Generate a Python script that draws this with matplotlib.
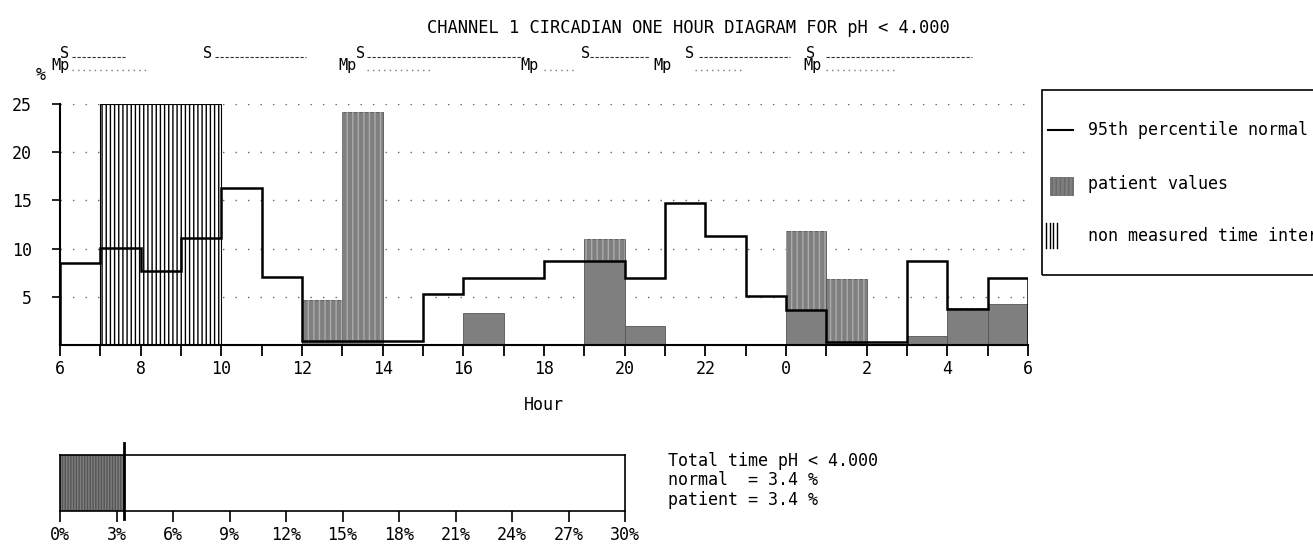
import matplotlib
matplotlib.use('Agg')
import matplotlib.pyplot as plt
from matplotlib.lines import Line2D
from matplotlib.patches import Rectangle
from matplotlib.transforms import blended_transform_factory

plt.rcParams['font.family'] = ['DejaVu Sans Mono']
plt.rcParams['hatch.linewidth'] = 1.0

# hourly bins, 06:00 -> 06:00 next day (hours past 24 shown as 0, 2, 4, 6)
hour_edges = list(range(6, 31))
hour_ticks = [6, 8, 10, 12, 14, 16, 18, 20, 22, 24, 26, 28, 30]
hour_labels = ['6', '8', '10', '12', '14', '16', '18', '20', '22', '0', '2', '4', '6']
normal_p95 = [8.5, 10.1, 7.7, 11.1, 16.3, 7.1, 0.4, 0.4, 0.4, 5.3, 7.0, 7.0,
              8.7, 8.7, 7.0, 14.7, 11.3, 5.1, 3.6, 0.3, 0.3, 8.7, 3.7, 7.0]
patient = [0, 0, 0, 0, 0, 0, 4.7, 24.2, 0, 0, 3.3, 0,
           0, 11.0, 2.0, 0, 0, 0, 11.8, 6.8, 0, 0.9, 3.8, 4.3]
not_measured = [(7, 10)]
y_ticks = [5, 10, 15, 20, 25]

# event markers above the chart (hour of day)
meal_marks = [6.02, 13.14, 17.65, 20.95, 24.65]
supine_marks = [6.12, 9.67, 13.44, 19.02, 21.62, 24.6]
supine_periods = [(6.3, 7.6), (9.85, 12.1), (13.6, 17.5), (19.15, 20.6), (21.85, 24.1), (25.0, 28.6)]
meal_periods = [(6.3, 8.2), (13.6, 15.2), (18.0, 18.8), (21.75, 22.9), (25.0, 26.7)]

# total time summary
threshold = '4.000'
total_ticks = [0, 3, 6, 9, 12, 15, 18, 21, 24, 27, 30]
normal_total = 3.4
patient_total = 3.4

W, H = 1313, 550
grey = '#7f7f7f'
stripe = '#ababab'


def fx(px):
    return px / W


def fy(py):
    return 1 - py / H


fig = plt.figure(figsize=(W / 100, H / 100), dpi=100)
fig.patch.set_facecolor('white')

ax = fig.add_axes([fx(60), fy(345), fx(1028) - fx(60), fy(104) - fy(345)])
ax.set_xlim(6, 30)
ax.set_ylim(0, 25)
for s in ['top', 'right']:
    ax.spines[s].set_visible(False)
for s in ['left', 'bottom']:
    ax.spines[s].set_linewidth(1.5)

# patient bars: plain grey, striped where they exceed the normal line
ax.bar(hour_edges[:-1], patient, width=1, align='edge', color=grey,
       edgecolor='#555555', linewidth=0.6, zorder=2)
low = [min(n, p) for n, p in zip(normal_p95, patient)]
ax.bar(hour_edges[:-1], [p - l for p, l in zip(patient, low)], bottom=low, width=1,
       align='edge', facecolor='none', edgecolor=stripe, hatch='|||', linewidth=0, zorder=2.5)
for a, b in not_measured:
    ax.bar(a, 25, width=b - a, align='edge', facecolor='white',
           edgecolor='black', hatch='||||', linewidth=0.8, zorder=2)
ax.stairs(normal_p95, hour_edges, baseline=0, color='black', linewidth=1.8, zorder=4)

ax.set_yticks(y_ticks)
ax.yaxis.grid(True, linestyle=(0, (1, 8)), color='#666666', linewidth=1.0)
ax.set_axisbelow(True)
ax.set_xticks(hour_ticks, hour_labels)
ax.set_xticks(hour_edges, minor=True)
ax.tick_params(axis='x', which='both', length=8, width=1.3, pad=3, labelsize=12)
ax.tick_params(axis='y', length=6, width=1.2, pad=14, labelsize=12)
ax.set_xlabel('Hour', fontsize=12, labelpad=13)
ax.text(-0.02, 1.12, '%', transform=ax.transAxes, ha='center', va='center', fontsize=12)

trans = blended_transform_factory(ax.transData, ax.transAxes)
for a, b in supine_periods:
    ax.plot([a, b], [1.195, 1.195], transform=trans, clip_on=False,
            color='#333333', linewidth=0.8, linestyle=(0, (3, 1.5)))
for a, b in meal_periods:
    ax.plot([a, b], [1.14, 1.14], transform=trans, clip_on=False,
            color='#777777', linewidth=1.0, linestyle=(0, (1, 3)))
for m in meal_marks:
    ax.text(m, 1.16, 'Mp', transform=trans, ha='center', va='center', fontsize=11)
for m in supine_marks:
    ax.text(m, 1.21, 'S', transform=trans, ha='center', va='center', fontsize=11)

fig.text(fx(688), fy(28), 'CHANNEL 1 CIRCADIAN ONE HOUR DIAGRAM FOR pH < ' + threshold,
         ha='center', va='center', fontsize=12.3)

# legend box (runs off the right edge like the original)
fig.patches.append(Rectangle((fx(1042), fy(275)), fx(1420) - fx(1042), fy(90) - fy(275),
                             transform=fig.transFigure, fill=False, edgecolor='black', linewidth=1.2))
fig.add_artist(Line2D([fx(1048), fx(1073)], [fy(130), fy(130)], color='black', linewidth=1.5))
fig.patches.append(Rectangle((fx(1050), fy(195)), fx(1073) - fx(1050), fy(177) - fy(195),
                             transform=fig.transFigure, facecolor=grey, edgecolor='#6a6a6a',
                             hatch='||||', linewidth=0.6))
for px in [1046, 1049.5, 1053, 1056.5]:
    fig.add_artist(Line2D([fx(px), fx(px)], [fy(248), fy(223)], color='black', linewidth=1.0))
fig.text(fx(1088), fy(130), '95th percentile normal', va='center', fontsize=12)
fig.text(fx(1088), fy(184), 'patient values', va='center', fontsize=12)
fig.text(fx(1088), fy(236), 'non measured time intervals', va='center', fontsize=12)

# total time bar
bx = fig.add_axes([fx(60), fy(511), fx(625) - fx(60), fy(455) - fy(511)])
bx.set_xlim(0, 30)
bx.set_ylim(0, 1)
bx.barh(0.5, patient_total, height=1, left=0, color=grey, edgecolor='#555555',
        hatch='||||||', linewidth=0.6)
bx.axvline(normal_total, ymin=-0.15, ymax=1.22, clip_on=False, color='black', linewidth=2)
bx.set_xticks(total_ticks, [f'{t}%' for t in total_ticks])
bx.set_yticks([])
bx.tick_params(axis='x', length=8, width=1.2, pad=3, labelsize=12)
for s in bx.spines.values():
    s.set_linewidth(1.2)

fig.text(fx(668), fy(452),
         f'Total time pH < {threshold}\nnormal  = {normal_total} %\npatient = {patient_total} %',
         ha='left', va='top', fontsize=12, linespacing=1.1)

fig.savefig('out.png', dpi=100)
